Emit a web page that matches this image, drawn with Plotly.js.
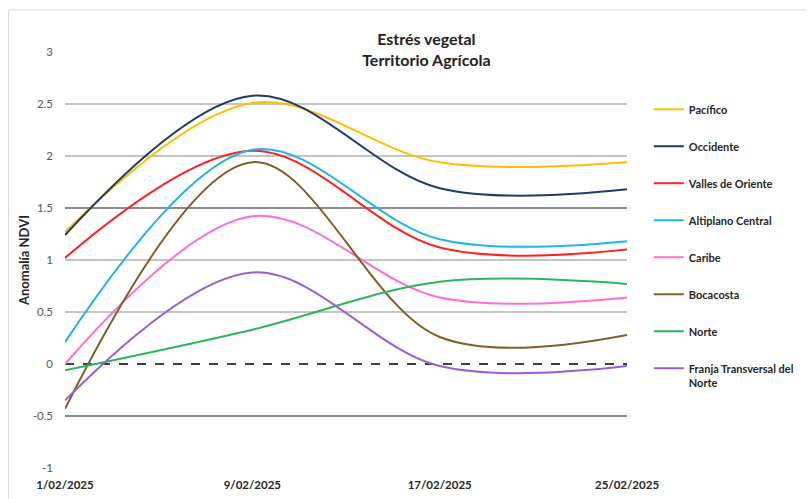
<!DOCTYPE html>
<html>
<head>
<meta charset="utf-8">
<script src="https://cdn.plot.ly/plotly-3.0.1.min.js"></script>
<style>
  html, body { margin: 0; padding: 0; background: #ffffff; }
  #chart { width: 811px; height: 499px; }
</style>
</head>
<body>
<div id="chart"></div>
<script>
// Days of February 2025 (8-day composites)
const days = [1, 9, 17, 25];
const tickLabels = ["1/02/2025", "9/02/2025", "17/02/2025", "25/02/2025"];

const seriesNames = [
  "Pacífico",
  "Occidente",
  "Valles de Oriente",
  "Altiplano Central",
  "Caribe",
  "Bocacosta",
  "Norte",
  "Franja Transversal del<br>Norte"
];

const pacifico   = [1.27, 2.51, 1.94, 1.94];
const occidente  = [1.24, 2.58, 1.69, 1.68];
const valles     = [1.02, 2.05, 1.12, 1.10];
const altiplano  = [0.21, 2.06, 1.20, 1.18];
const caribe     = [0.00, 1.42, 0.64, 0.64];
const bocacosta  = [-0.43, 1.94, 0.26, 0.28];
const norte      = [-0.06, 0.33, 0.79, 0.77];
const franja     = [-0.35, 0.88, -0.02, -0.02];

const yTicks     = [-1, -0.5, 0, 0.5, 1, 1.5, 2, 2.5, 3];
const yGridLight = [0.5, 1, 2, 2.5];
const yGridDark  = [-0.5, 1.5];

const values = [pacifico, occidente, valles, altiplano, caribe, bocacosta, norte, franja];
const colors = ["#FFC000", "#1F3A6E", "#FF2020", "#1FB5F0", "#FF6FCF", "#806020", "#2DB55D", "#9A5FD8"];

const traces = values.map((v, i) => ({
  type: "scatter",
  mode: "lines",
  x: days,
  y: v,
  name: seriesNames[i],
  legendgroup: "g" + i,
  line: { color: colors[i], width: 2, shape: "spline", smoothing: 1 },
  hoverinfo: "x+y+name"
}));

const font = "Lato, 'Open Sans', sans-serif";

const gridAxis = (vals, color) => ({
  range: [-1, 3],
  tickmode: "array",
  tickvals: vals,
  showticklabels: false,
  showgrid: true,
  gridcolor: color,
  gridwidth: 2,
  zeroline: false,
  showline: false,
  ticks: "",
  fixedrange: true
});

const darkGrid = Object.assign(gridAxis(yGridDark, "#8C8C8C"), { overlaying: "y", side: "left", anchor: "x" });

const layout = {
  width: 811,
  height: 499,
  margin: { l: 65, r: 178, t: 52, b: 31 },
  paper_bgcolor: "#ffffff",
  plot_bgcolor: "#ffffff",
  showlegend: true,
  title: {
    text: "<b>Estrés vegetal<br>Territorio Agrícola</b>",
    font: { family: font, size: 16, color: "#222222" },
    x: 0.643, xref: "paper", xanchor: "center",
    y: 0.909, yref: "container", yanchor: "middle"
  },
  xaxis: {
    range: [1, 25],
    tickmode: "array",
    tickvals: days,
    ticktext: tickLabels.map(t => "<b>" + t + "</b>"),
    showgrid: false,
    zeroline: false,
    showline: false,
    ticks: "",
    ticklabelstandoff: 8,
    tickfont: { family: font, size: 11.5, color: "#262626" },
    fixedrange: true
  },
  yaxis: gridAxis(yGridLight, "#C4C4C4"),
  yaxis3: darkGrid,
  yaxis2: {
    overlaying: "y",
    side: "left",
    anchor: "x",
    range: [-1, 3],
    tickmode: "array",
    tickvals: yTicks,
    ticktext: yTicks.map(String),
    showgrid: false,
    zeroline: false,
    showline: false,
    ticks: "",
    ticklabelstandoff: 11,
    tickfont: { family: font, size: 11.5, color: "#595959" },
    title: {
      text: "<b>Anomalía NDVI</b>",
      font: { family: font, size: 13, color: "#262626" },
      standoff: 0
    },
    fixedrange: true
  },
  legend: {
    x: 1.0388, xanchor: "left",
    y: 0.895, yanchor: "top",
    tracegroupgap: 18,
    valign: "top",
    font: { family: font, size: 11, color: "#262626", weight: "bold" },
    bgcolor: "rgba(0,0,0,0)"
  },
  shapes: [
    { type: "line", xref: "paper", yref: "y", x0: 0, x1: 1, y0: 0, y1: 0,
      line: { color: "#000000", width: 1.5, dash: "dash" }, layer: "below" },
    { type: "line", xref: "paper", yref: "paper", x0: -0.1004, x1: 1.32, y0: 1.101, y1: 1.101,
      line: { color: "#D9D9D9", width: 1 } },
    { type: "line", xref: "paper", yref: "paper", x0: -0.1004, x1: -0.1004, y0: 1.101, y1: -0.2,
      line: { color: "#D9D9D9", width: 1 } }
  ]
};

// invisible traces so the overlay axes are drawn
traces.push({ type: "scatter", x: [1], y: [0], yaxis: "y2", mode: "markers",
  marker: { opacity: 0 }, showlegend: false, hoverinfo: "skip" });
traces.push({ type: "scatter", x: [1], y: [0], yaxis: "y3", mode: "markers",
  marker: { opacity: 0 }, showlegend: false, hoverinfo: "skip" });

Plotly.newPlot("chart", traces, layout, { displayModeBar: false, staticPlot: true });
</script>
</body>
</html>
